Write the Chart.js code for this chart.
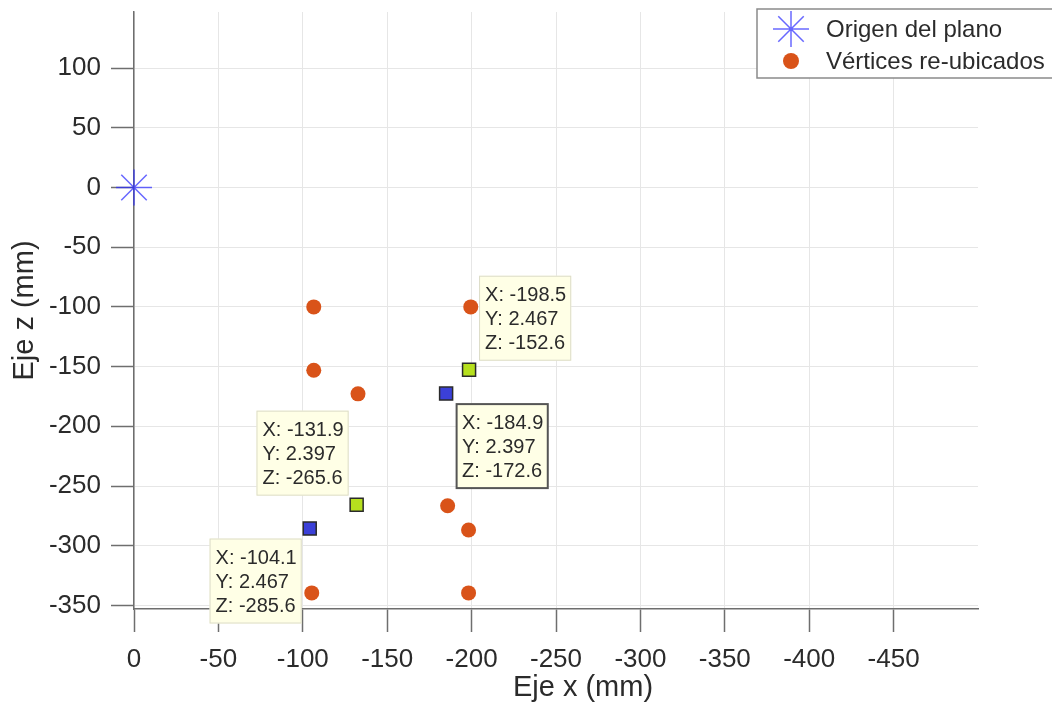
<!DOCTYPE html>
<html>
<head>
<meta charset="utf-8">
<title>Vértices re-ubicados</title>
<script src="https://cdn.jsdelivr.net/npm/chart.js@4.4.0/dist/chart.umd.min.js"></script>
<style>
  html, body { margin: 0; padding: 0; background: #fff; }
  #wrap { width: 1052px; height: 704px; }
</style>
</head>
<body>
<div id="wrap"><canvas id="plano"></canvas></div>
<script>
// origin of the plane (mm)
const origenX = [0];
const origenZ = [0];

// relocated vertices (mm)
const verticesX = [-106.5, -199.5, -106.5, -132.7, -185.8, -198.2, -105.3, -198.2];
const verticesZ = [-100, -100, -153, -172.8, -266.5, -286.8, -339.5, -339.5];

// marked vertices and their readouts
const tipX = [-198.5, -184.9, -131.9, -104.1];
const tipY = [2.467, 2.397, 2.397, 2.467];
const tipZ = [-152.6, -172.6, -265.6, -285.6];

// axis ticks
const xTicks = [0, -50, -100, -150, -200, -250, -300, -350, -400, -450];
const zTicks = [100, 50, 0, -50, -100, -150, -200, -250, -300, -350];

const FONT = '"Liberation Sans", Arial, Helvetica, sans-serif';
const TEXT = '#2b2b2b';

const toPoints = (xs, zs) => xs.map((v, i) => ({ x: v, y: zs[i] }));

// which side of the marker each readout box sits on
const tipCorner = ['ne', 'se', 'nw', 'sw'];
const tipActive = [false, true, false, false];

const dataTips = {
  id: 'dataTips',
  afterDraw(chart) {
    const { ctx, scales: { x, y } } = chart;
    ctx.save();
    ctx.font = '20px ' + FONT;
    ctx.textBaseline = 'middle';
    tipX.forEach((vx, i) => {
      const px = x.getPixelForValue(vx);
      const py = y.getPixelForValue(tipZ[i]);
      const lines = [
        'X: ' + vx.toFixed(1),
        'Y: ' + tipY[i].toFixed(3),
        'Z: ' + tipZ[i].toFixed(1)
      ];
      const w = Math.max(...lines.map(t => ctx.measureText(t).width)) + 11;
      const h = 85;
      const c = tipCorner[i];
      const bx = c[1] === 'e' ? px + 10 : px - 8 - w;
      const by = c[0] === 'n' ? py - 9 - h : py + 10;
      ctx.fillStyle = '#ffffe6';
      ctx.fillRect(bx, by, w, h);
      ctx.lineWidth = tipActive[i] ? 2 : 1;
      ctx.strokeStyle = tipActive[i] ? '#555' : '#dcdcc8';
      ctx.strokeRect(bx + 0.5, by + 0.5, w - 1, h - 1);
      ctx.fillStyle = TEXT;
      lines.forEach((t, k) => ctx.fillText(t, bx + 6, by + 20 + k * 24));
    });
    ctx.restore();
  }
};

const legendBox = {
  id: 'legendBox',
  afterDraw(chart) {
    const ctx = chart.ctx;
    const items = chart.data.datasets.filter(d => d.inLegend);
    ctx.save();
    ctx.fillStyle = '#fff';
    ctx.fillRect(757, 9, 310, 69);
    ctx.strokeStyle = '#8a8a8a';
    ctx.lineWidth = 1.5;
    ctx.strokeRect(757, 9, 310, 69);
    ctx.font = '24px ' + FONT;
    ctx.textBaseline = 'middle';
    items.forEach((d, k) => {
      const cx = 791, cy = 29 + k * 32;
      if (d.pointStyle === 'star') {
        ctx.strokeStyle = d.borderColor;
        ctx.lineWidth = d.borderWidth;
        ctx.beginPath();
        for (let a = 0; a < 4; a++) {
          const r = a * Math.PI / 4;
          ctx.moveTo(cx - Math.cos(r) * 18, cy - Math.sin(r) * 18);
          ctx.lineTo(cx + Math.cos(r) * 18, cy + Math.sin(r) * 18);
        }
        ctx.stroke();
      } else {
        ctx.fillStyle = d.backgroundColor;
        ctx.beginPath();
        ctx.arc(cx, cy, 8, 0, Math.PI * 2);
        ctx.fill();
      }
      ctx.fillStyle = TEXT;
      ctx.fillText(d.label, 826, cy + 1);
    });
    ctx.restore();
  }
};

const xTitle = {
  id: 'xTitle',
  afterDraw(chart) {
    const ctx = chart.ctx;
    ctx.save();
    ctx.font = '29px ' + FONT;
    ctx.fillStyle = TEXT;
    ctx.textAlign = 'center';
    ctx.textBaseline = 'middle';
    ctx.fillText('Eje x (mm)', 583, 688);
    ctx.restore();
  }
};

const axisGrid = {
  color: '#e6e6e6',
  lineWidth: 1,
  tickColor: '#6e6e6e',
  tickWidth: 1.5,
  tickLength: 23
};

new Chart(document.getElementById('plano'), {
  type: 'scatter',
  data: {
    datasets: [
      {
        label: 'Origen del plano',
        inLegend: true,
        data: toPoints(origenX, origenZ),
        pointStyle: 'star',
        pointRadius: 18,
        borderWidth: 1.5,
        borderColor: 'rgba(40, 40, 255, 0.7)',
        backgroundColor: 'rgba(40, 40, 255, 0.7)',
        clip: false,
        order: 1
      },
      {
        label: 'Vértices re-ubicados',
        inLegend: true,
        data: toPoints(verticesX, verticesZ),
        pointStyle: 'circle',
        pointRadius: 7.5,
        borderWidth: 0,
        backgroundColor: '#d95319',
        order: 3
      },
      {
        label: 'Marcas',
        data: toPoints(tipX, tipZ),
        pointStyle: 'rect',
        pointRadius: 9.2,
        borderWidth: 1.5,
        borderColor: '#2a2a2a',
        backgroundColor: ['#b6e01e', '#3b40d8', '#b6e01e', '#3b40d8'],
        order: 2
      }
    ]
  },
  options: {
    responsive: true,
    maintainAspectRatio: false,
    animation: false,
    layout: { autoPadding: false, padding: { top: 12, right: 74, left: 0, bottom: 0 } },
    plugins: {
      legend: { display: false },
      tooltip: { enabled: false }
    },
    scales: {
      x: {
        type: 'linear',
        reverse: true,
        min: -500,
        max: 0,
        afterBuildTicks: s => { s.ticks = xTicks.map(v => ({ value: v })); },
        afterFit: s => { s.height = 95; s.paddingLeft = 0; s.paddingRight = 0; },
        grid: axisGrid,
        border: { color: '#6e6e6e', width: 1.5 },
        ticks: {
          padding: 12,
          color: TEXT,
          font: { family: FONT, size: 26 },
          maxRotation: 0,
          callback: v => String(v)
        }
      },
      y: {
        type: 'linear',
        min: -353,
        max: 147,
        afterBuildTicks: s => { s.ticks = zTicks.map(v => ({ value: v })); },
        afterFit: s => { s.width = 134; s.paddingTop = 0; s.paddingBottom = 0; },
        grid: axisGrid,
        border: { color: '#6e6e6e', width: 1.5 },
        title: {
          display: true,
          text: 'Eje z (mm)',
          color: TEXT,
          font: { family: FONT, size: 29 },
          padding: { top: 8, bottom: 0 }
        },
        ticks: {
          padding: 10,
          color: TEXT,
          font: { family: FONT, size: 26 },
          callback: v => String(v)
        }
      }
    }
  },
  plugins: [legendBox, dataTips, xTitle]
});
</script>
</body>
</html>
